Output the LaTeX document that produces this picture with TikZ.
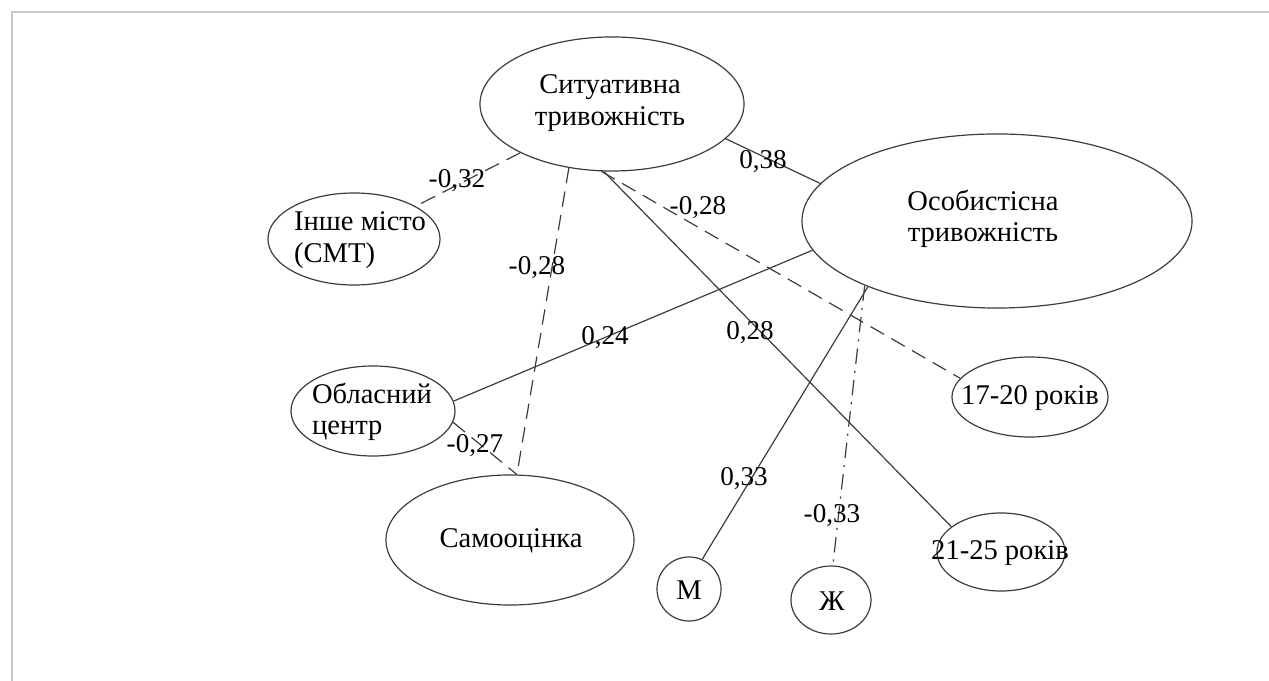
\documentclass[tikz,border=0pt]{standalone}
\usepackage{fontspec}
\setmainfont{Liberation Serif}
\usetikzlibrary{shapes.geometric}
\definecolor{LineGray}{RGB}{60,60,60}
\definecolor{FrameGray}{RGB}{200,200,200}

\begin{document}
\begin{tikzpicture}[x=0.025cm, y=-0.025cm,
	ell/.style={ellipse, draw=LineGray, line width=0.85pt, inner sep=0pt},
	txt/.style={align=center, inner sep=0pt, font=\fontsize{20.3}{22.2}\selectfont},
	poslink/.style={draw=LineGray, line width=0.85pt},
	neglink/.style={poslink, dash pattern=on 11pt off 6pt},
	negdot/.style={poslink, dash pattern=on 11pt off 5pt on 1.5pt off 5pt},
	coef/.style={inner sep=0pt, font=\fontsize{19.3}{22}\selectfont}]
	\useasboundingbox (0,0) rectangle (1269,681);
	\draw[FrameGray, line width=1.5pt] (12,681) -- (12,12) -- (1269,12);
	% ellipses
	\node[ell, minimum width=6.6cm, minimum height=3.35cm] (sit) at (612,104) {};
	\node[ell, minimum width=9.75cm, minimum height=4.35cm] (osob) at (997,221) {};
	\node[ell, minimum width=4.3cm, minimum height=2.3cm] (inshe) at (354,239) {};
	\node[ell, minimum width=4.1cm, minimum height=2.25cm] (obl) at (373,411) {};
	\node[ell, minimum width=6.2cm, minimum height=3.25cm] (samo) at (510,540) {};
	\node[ell, minimum width=1.6cm, minimum height=1.6cm] (m) at (689,589) {};
	\node[ell, minimum width=2.0cm, minimum height=1.7cm] (zh) at (831,600) {};
	\node[ell, minimum width=3.9cm, minimum height=2.0cm] (yrsA) at (1030,397) {};
	\node[ell, minimum width=3.2cm, minimum height=1.95cm] (yrsB) at (1001,552) {};
	% texts
	\node[txt] (sit-t) at (610,103) {Ситуативна\\тривожність};
	\node[txt] (osob-t) at (983,219) {Особистісна\\тривожність};
	\node[txt, align=left] (inshe-t) at (360,240) {Інше місто\\(СМТ)};
	\node[txt, align=left] (obl-t) at (372,412) {Обласний\\центр};
	\node[txt] (samo-t) at (511,541) {Самооцінка};
	\node[txt] (m-t) at (689,590) {М};
	\node[txt] (zh-t) at (832,601) {Ж};
	\node[txt] (yrsA-t) at (1030,398) {17-20 років};
	\node[txt] (yrsB-t) at (1000,553) {21-25 років};
	% links
	\draw[neglink] (sit.208) -- (inshe.28);
	\draw[neglink] (sit.236) -- (samo.84);
	\draw[poslink] (sit.-17) -- (osob.168.5);
	\draw[neglink] (sit.261) -- (yrsA.165);
	\draw[poslink] (sit.263) -- (yrsB.153);
	\draw[poslink] (obl.7) -- (osob.189.5);
	\draw[neglink] (obl.-8) -- (samo.84);
	\draw[poslink] (osob.207.5) -- (m.66);
	\draw[negdot] (osob.206.5) -- (zh.87);
	% coefficients
	\node[coef] (c1) at (457,181) {-0,32};
	\node[coef] (c2) at (537,268) {-0,28};
	\node[coef] (c3) at (763,162) {0,38};
	\node[coef] (c4) at (698,208) {-0,28};
	\node[coef] (c5) at (605,338) {0,24};
	\node[coef] (c6) at (750,333) {0,28};
	\node[coef] (c7) at (475,446) {-0,27};
	\node[coef] (c8) at (744,479) {0,33};
	\node[coef] (c9) at (832,516) {-0,33};
\end{tikzpicture}
\end{document}
